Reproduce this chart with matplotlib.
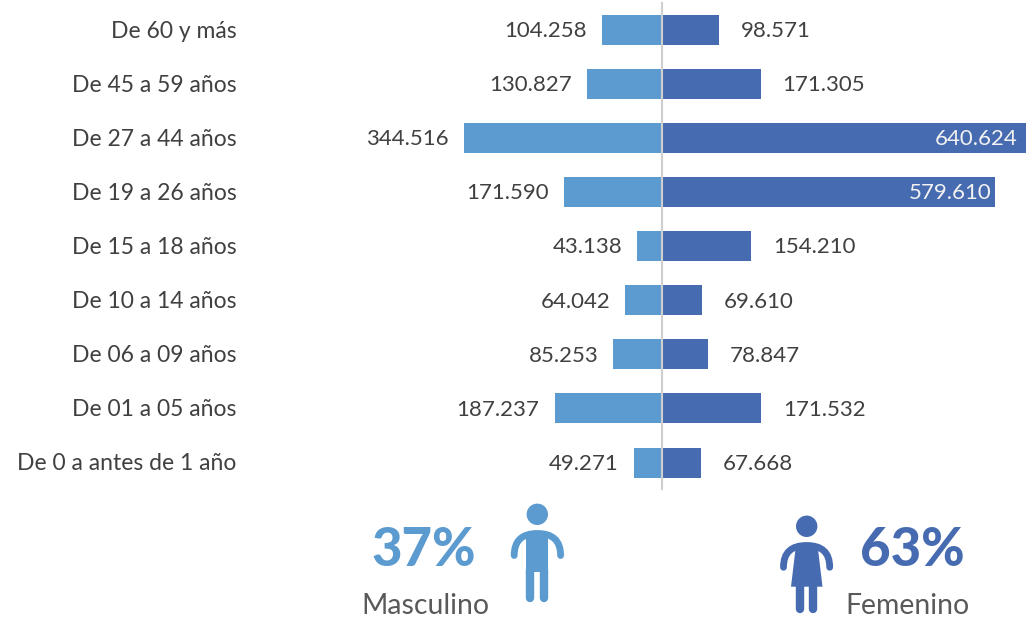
#!/usr/bin/env python3
"""Poblacion por grupo de edad y sexo, barras enfrentadas."""

import matplotlib.pyplot as plt
from matplotlib.patches import Circle, PathPatch, Polygon
from matplotlib.path import Path

plt.rcParams["font.family"] = ["Lato", "DejaVu Sans"]

W, H = 1026, 621
CENTER = 662.2
PX_PER_UNIT = 0.000575
ROW_TOP = 30.0
ROW_STEP = 54.07

BLUE_M = "#5B9BD0"
BLUE_F = "#466BB0"
GREY = "#404040"

ages = ["De 60 y más", "De 45 a 59 años", "De 27 a 44 años", "De 19 a 26 años",
        "De 15 a 18 años", "De 10 a 14 años", "De 06 a 09 años", "De 01 a 05 años",
        "De 0 a antes de 1 año"]
male = [104258, 130827, 344516, 171590, 43138, 64042, 85253, 187237, 49271]
female = [98571, 171305, 640624, 579610, 154210, 69610, 78847, 171532, 67668]
male_share = "37%"
female_share = "63%"


def fmt(v):
    return f"{v:,}".replace(",", ".")


def px(length):
    return length * 0.72


def arms(ax, color, top, bottom, left, right):
    mid = (left + right) / 2
    verts = [(left, bottom), (left, bottom - 15), (left + 8, top), (mid, top),
             (right - 8, top), (right, bottom - 15), (right, bottom)]
    codes = [Path.MOVETO, Path.CURVE4, Path.CURVE4, Path.CURVE4,
             Path.CURVE4, Path.CURVE4, Path.CURVE4]
    ax.add_patch(PathPatch(Path(verts, codes), fc="none", ec=color, lw=px(6.8),
                           capstyle="round"))


def legs(ax, color, xs, top, bottom, width=6.8):
    for x in xs:
        ax.plot([x, x], [top, bottom], color=color, lw=px(width),
                solid_capstyle="round")


fig = plt.figure(figsize=(W / 100, H / 100), dpi=100)
ax = fig.add_axes([0, 0, 1, 1])
ax.set_xlim(-CENTER / PX_PER_UNIT, (W - CENTER) / PX_PER_UNIT)
ax.set_ylim((H - ROW_TOP) / ROW_STEP, -ROW_TOP / ROW_STEP)
ax.axis("off")

rows = range(len(ages))
bar_h = 30 / ROW_STEP
ax.barh(rows, [-v for v in male], height=bar_h, color=BLUE_M, lw=0)
ax.barh(rows, female, height=bar_h, color=BLUE_F, lw=0)
ax.plot([0, 0], [-0.5, 8.49], color="#CFCFCF", lw=1.5, zorder=3)

LABEL_PT = 16.5
VALUE_PT = 16
gap = 22 / PX_PER_UNIT
nudge = 1.2 / ROW_STEP
for i in rows:
    ax.text(-425.5 / PX_PER_UNIT, i + nudge, ages[i], ha="right", va="center",
            fontsize=LABEL_PT, color=GREY)
    ax.text(-male[i] - 15 / PX_PER_UNIT, i + nudge, fmt(male[i]), ha="right", va="center",
            fontsize=VALUE_PT, color=GREY)
    if female[i] > 500000:
        edge = min(female[i], 363 / PX_PER_UNIT)
        ax.text(edge - 4 / PX_PER_UNIT - (4 / PX_PER_UNIT if edge < female[i] else 0), i + nudge,
                fmt(female[i]), ha="right", va="center", fontsize=VALUE_PT, color="#F2F2F2")
    else:
        ax.text(female[i] + gap, i + nudge, fmt(female[i]), ha="left", va="center",
                fontsize=VALUE_PT, color=GREY)

# iconos y porcentajes en pixeles de la imagen
ov = fig.add_axes([0, 0, 1, 1])
ov.set_xlim(0, W)
ov.set_ylim(H, 0)
ov.axis("off")
ov.patch.set_alpha(0)

ov.add_patch(Circle((537.3, 514.3), 10.7, fc=BLUE_M, lw=0))
arms(ov, BLUE_M, 533.5, 555.5, 514.2, 560.6)
ov.add_patch(Polygon([(526, 533), (548.3, 533), (548.3, 572), (526, 572)], fc=BLUE_M, lw=0))
legs(ov, BLUE_M, [530.3, 544], 570, 597.5, 8.4)

ov.add_patch(Circle((806.7, 526.3), 10.7, fc=BLUE_F, lw=0))
arms(ov, BLUE_F, 545.5, 567.3, 783.5, 829.7)
ov.add_patch(Polygon([(796, 545), (817.5, 545), (822.5, 586.7), (791, 586.7)], fc=BLUE_F, lw=0))
legs(ov, BLUE_F, [800.2, 813.1], 586, 609, 8.4)

ov.text(424, 551, male_share, ha="center", va="center", fontsize=38, fontweight="black",
        color=BLUE_M)
ov.text(912, 551, female_share, ha="center", va="center", fontsize=38, fontweight="black",
        color=BLUE_F)
ov.text(425.5, 606, "Masculino", ha="center", va="center", fontsize=20.4, color="#595959")
ov.text(907.5, 606, "Femenino", ha="center", va="center", fontsize=20.4, color="#595959")

fig.savefig("out.png", dpi=100)
